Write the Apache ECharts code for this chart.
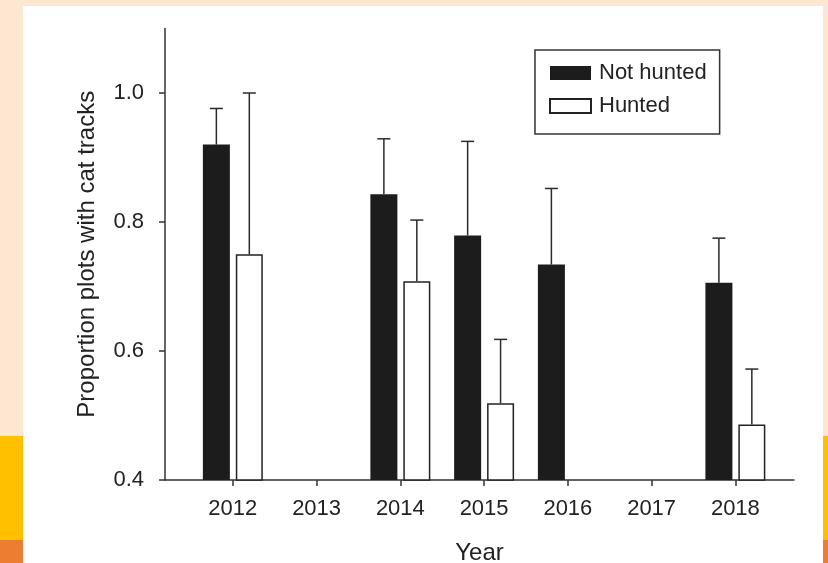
<!DOCTYPE html>
<html>
<head>
<meta charset="utf-8">
<title>Proportion plots with cat tracks</title>
<script src="https://cdn.jsdelivr.net/npm/echarts@6/dist/echarts.min.js"></script>
<style>
  html, body { margin: 0; padding: 0; }
  body { width: 828px; height: 563px; position: relative; overflow: hidden; background: #fee7d0; }
  .strip { position: absolute; }
  #panel { position: absolute; left: 23px; top: 6px; width: 800px; height: 557px; background: #ffffff; }
  #chart { position: absolute; left: 0; top: 0; width: 828px; height: 563px; }
</style>
</head>
<body>
<!-- page decoration behind the figure -->
<div class="strip" style="left:0;top:436px;width:23px;height:104px;background:#ffc000"></div>
<div class="strip" style="left:0;top:540px;width:23px;height:23px;background:#ed7d31"></div>
<div class="strip" style="left:823px;top:436px;width:5px;height:104px;background:#ffc000"></div>
<div class="strip" style="left:823px;top:540px;width:5px;height:23px;background:#ed7d31"></div>
<div id="panel"></div>
<div id="chart"></div>
<script>
// Survey years
const years = [2012, 2013, 2014, 2015, 2016, 2017, 2018];

// Mean proportion of plots with cat tracks (null = not surveyed)
const notHunted = [0.920, null, 0.843, 0.779, 0.734, null, 0.706];
const hunted    = [0.750, null, 0.708, 0.519, null,  null, 0.486];

// Upper end of the error bars
const notHuntedUpper = [0.976, null, 0.929, 0.925, 0.852, null, 0.775];
const huntedUpper    = [1.000, null, 0.803, 0.618, null,  null, 0.572];

// Axis ticks
const yTicks = [0.4, 0.6, 0.8, 1.0];
const xTicks = years;

const FONT = "'Liberation Sans', Arial, Helvetica, sans-serif";
const INK = '#222222';
const BAR_W = 27;
const GAP = 0.22;
const HALF_STEP = BAR_W * (1 + GAP) / 2;

function pairs(vals) {
  return years.map((y, i) => vals[i] == null ? null : [y, vals[i]]).filter(Boolean);
}
function triples(vals, ups) {
  return years.map((y, i) => vals[i] == null ? null : [y, vals[i], ups[i]]).filter(Boolean);
}

function errorBars(name, vals, ups, dx) {
  return {
    type: 'custom',
    name: name,
    data: triples(vals, ups),
    encode: { x: 0, y: [1, 2] },
    z: 5,
    silent: true,
    clip: false,
    renderItem: function (params, api) {
      const low = api.coord([api.value(0), api.value(1)]);
      const high = api.coord([api.value(0), api.value(2)]);
      const x = low[0] + dx;
      const style = { stroke: '#2a2a2a', lineWidth: 1.5 };
      return {
        type: 'group',
        children: [
          { type: 'line', shape: { x1: x, y1: low[1], x2: x, y2: high[1] }, style: style },
          { type: 'line', shape: { x1: x - 6.5, y1: high[1], x2: x + 6.5, y2: high[1] }, style: style }
        ]
      };
    }
  };
}

const chart = echarts.init(document.getElementById('chart'), null, { renderer: 'canvas' });

chart.setOption({
  backgroundColor: 'transparent',
  animation: false,
  textStyle: { fontFamily: FONT, color: INK },
  grid: { left: 165, right: 34, top: 28.5, bottom: 83, containLabel: false, outerBoundsMode: 'none' },
  legend: {
    data: ['Not hunted', 'Hunted'],
    icon: 'rect',
    orient: 'vertical',
    left: 535,
    top: 50,
    itemWidth: 41,
    itemHeight: 14,
    itemGap: 11,
    padding: [12, 13, 17, 14],
    backgroundColor: '#ffffff',
    borderColor: '#333333',
    borderWidth: 1.5,
    borderRadius: 0,
    textStyle: { fontFamily: FONT, fontSize: 22, color: INK, lineHeight: 22, padding: [0, 0, 0, 3] },
    selectedMode: false
  },
  xAxis: {
    type: 'value',
    name: 'Year',
    nameLocation: 'middle',
    nameGap: 61,
    nameTextStyle: { fontFamily: FONT, fontSize: 24, color: INK },
    min: 2011.19,
    max: 2018.70,
    splitLine: { show: false },
    axisLine: { show: true, onZero: false, lineStyle: { color: '#333333', width: 1.5 } },
    axisTick: { show: true, customValues: xTicks, length: 6, lineStyle: { color: '#333333', width: 1.5 } },
    axisLabel: { customValues: xTicks, margin: 18, fontSize: 22, color: INK, fontFamily: FONT,
                 formatter: v => String(Math.round(v)) }
  },
  yAxis: {
    type: 'value',
    name: 'Proportion plots with cat tracks',
    nameLocation: 'middle',
    nameGap: 66,
    nameRotate: 90,
    nameTextStyle: { fontFamily: FONT, fontSize: 24, color: INK },
    min: 0.4,
    max: 1.1,
    interval: 0.2,
    splitLine: { show: false },
    axisLine: { show: true, onZero: false, lineStyle: { color: '#333333', width: 1.5 } },
    axisTick: { show: true, customValues: yTicks, length: 6, lineStyle: { color: '#333333', width: 1.5 } },
    axisLabel: { customValues: yTicks, margin: 21, fontSize: 22, color: INK, fontFamily: FONT,
                 formatter: v => v.toFixed(1) }
  },
  series: [
    {
      type: 'bar',
      name: 'Not hunted',
      data: pairs(notHunted),
      barWidth: BAR_W,
      barGap: (GAP * 100) + '%',
      itemStyle: { color: '#1c1c1c', borderColor: '#1c1c1c', borderWidth: 0 },
      z: 2
    },
    {
      type: 'bar',
      name: 'Hunted',
      data: pairs(hunted),
      barWidth: BAR_W,
      barGap: (GAP * 100) + '%',
      itemStyle: { color: '#ffffff', borderColor: '#222222', borderWidth: 1.5 },
      z: 2
    },
    errorBars('Not hunted SE', notHunted, notHuntedUpper, -HALF_STEP),
    errorBars('Hunted SE', hunted, huntedUpper, HALF_STEP)
  ]
});
</script>
</body>
</html>
